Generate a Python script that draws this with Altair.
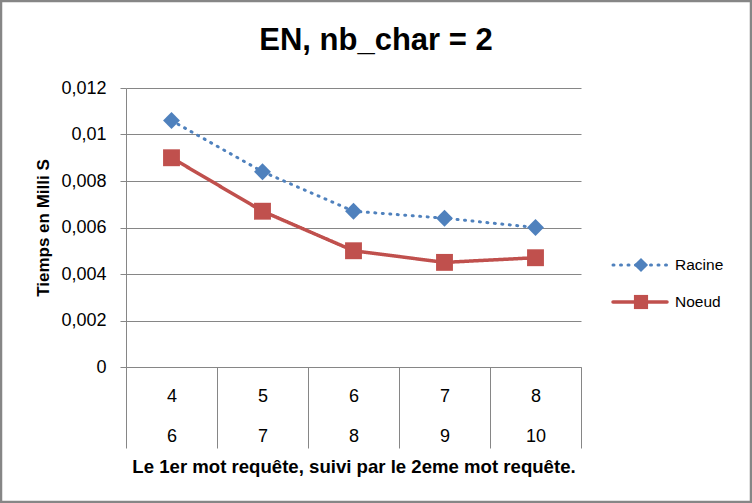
import altair as alt
import pandas as pd

# ---- data ----
first_word = ["4", "5", "6", "7", "8"]
second_word = ["6", "7", "8", "9", "10"]
racine = [0.0106, 0.0084, 0.0067, 0.0064, 0.0060]
noeud = [0.0090, 0.0067, 0.0050, 0.0045, 0.0047]
series_names = ["Racine", "Noeud"]
y_ticks = [0, 0.002, 0.004, 0.006, 0.008, 0.01, 0.012]
title_text = "EN, nb_char = 2"
x_title = "Le 1er mot requête, suivi par le 2eme mot requête."
y_title = "Tiemps en Milli S"

cats = [f"{a}|{b}" for a, b in zip(first_word, second_word)]
rows = []
for c, r, n in zip(cats, racine, noeud):
    rows.append({"cat": c, "series": "Racine", "value": r})
    rows.append({"cat": c, "series": "Noeud", "value": n})
df = pd.DataFrame(rows)
df_leg = pd.DataFrame({"series": series_names})
df_one = pd.DataFrame({"k": [0]})

BLUE = "#4F81BD"
RED = "#C0504D"
GRID = "#868686"
FONT = "Liberation Sans"

color_scale = alt.Scale(domain=series_names, range=[BLUE, RED])
dash_scale = alt.Scale(domain=series_names, range=[[1, 6.5], [1, 0]])
width_scale = alt.Scale(domain=series_names, range=[3, 3.5])
shape_scale = alt.Scale(domain=series_names, range=["diamond", "square"])

x_enc = alt.X(
    "cat:N", sort=cats, bandPosition=0.5,
    scale=alt.Scale(type="band", paddingInner=0, paddingOuter=0),
    axis=alt.Axis(
        title=x_title, labelAngle=0, tickBand="extent", tickSize=81,
        labelExpr="split(datum.label, '|')", labelLineHeight=40,
        labelPadding=-61, labelBaseline="top", labelFontSize=18,
        titleFontSize=18.6, titleFontWeight="bold", titlePadding=9,
        domainColor=GRID, tickColor=GRID, grid=False,
        labelColor="black", titleColor="black", labelFont=FONT, titleFont=FONT,
    ),
)
y_enc = alt.Y(
    "value:Q", scale=alt.Scale(domain=[0, 0.012], nice=False, zero=True),
    axis=alt.Axis(
        title=y_title, values=y_ticks,
        labelExpr="replace(toString(datum.value), '.', ',')",
        grid=True, gridColor=GRID, gridWidth=1, tickSize=6, tickColor=GRID,
        domainColor=GRID, labelPadding=14, labelFontSize=18,
        titleFontSize=17, titleFontWeight="bold", titlePadding=8,
        labelColor="black", titleColor="black", labelFont=FONT, titleFont=FONT,
    ),
)

base = alt.Chart(df)
lines = base.mark_line(strokeCap="round", strokeJoin="round").encode(
    x=x_enc, y=y_enc,
    color=alt.Color("series:N", scale=color_scale, legend=None),
    strokeDash=alt.StrokeDash("series:N", scale=dash_scale, legend=None),
    strokeWidth=alt.StrokeWidth("series:N", scale=width_scale, legend=None),
)
points = base.mark_point(filled=True, size=285, opacity=1).encode(
    x=x_enc, y=y_enc,
    color=alt.Color("series:N", scale=color_scale, legend=None),
    shape=alt.Shape("series:N", scale=shape_scale, legend=None),
)

leg_y = alt.Y("series:N", scale=alt.Scale(type="point", domain=series_names,
                                          range=[177, 214], padding=0), axis=None)
leg = alt.Chart(df_leg)
leg_rule = leg.mark_rule(strokeCap="round").encode(
    x=alt.value(487), x2=alt.value(541), y=leg_y,
    color=alt.Color("series:N", scale=color_scale, legend=None),
    strokeDash=alt.StrokeDash("series:N", scale=dash_scale, legend=None),
    strokeWidth=alt.StrokeWidth("series:N", scale=width_scale, legend=None),
)
leg_pts = leg.mark_point(filled=True, size=200, opacity=1).encode(
    x=alt.value(515), y=leg_y,
    color=alt.Color("series:N", scale=color_scale, legend=None),
    shape=alt.Shape("series:N", scale=shape_scale, legend=None),
)
leg_txt = leg.mark_text(align="left", baseline="middle", fontSize=15.5, font=FONT,
                        color="black").encode(
    x=alt.value(549), y=leg_y, text="series:N",
)

one = alt.Chart(df_one)
frame = one.mark_rect(fillOpacity=0, stroke=GRID, strokeWidth=2.5).encode(
    x=alt.value(-125), x2=alt.value(625), y=alt.value(-87), y2=alt.value(414),
)
title_mark = one.mark_text(text=title_text, fontSize=31, fontWeight="bold", font=FONT,
                           align="center", baseline="alphabetic", color="black").encode(
    x=alt.value(250), y=alt.value(-38),
)

main = alt.layer(lines, points)
legend = alt.layer(leg_rule, leg_pts, leg_txt)

chart = alt.layer(frame, title_mark, main, legend).resolve_scale(
    y="independent"
).properties(
    width=455, height=279,
    autosize=alt.AutoSizeParams(type="none"),
    padding={"left": 126, "top": 88, "right": 171, "bottom": 136},
    background="white",
).configure_view(stroke=None)

chart.save("out.html", embed_options={"renderer": "svg", "actions": False})
